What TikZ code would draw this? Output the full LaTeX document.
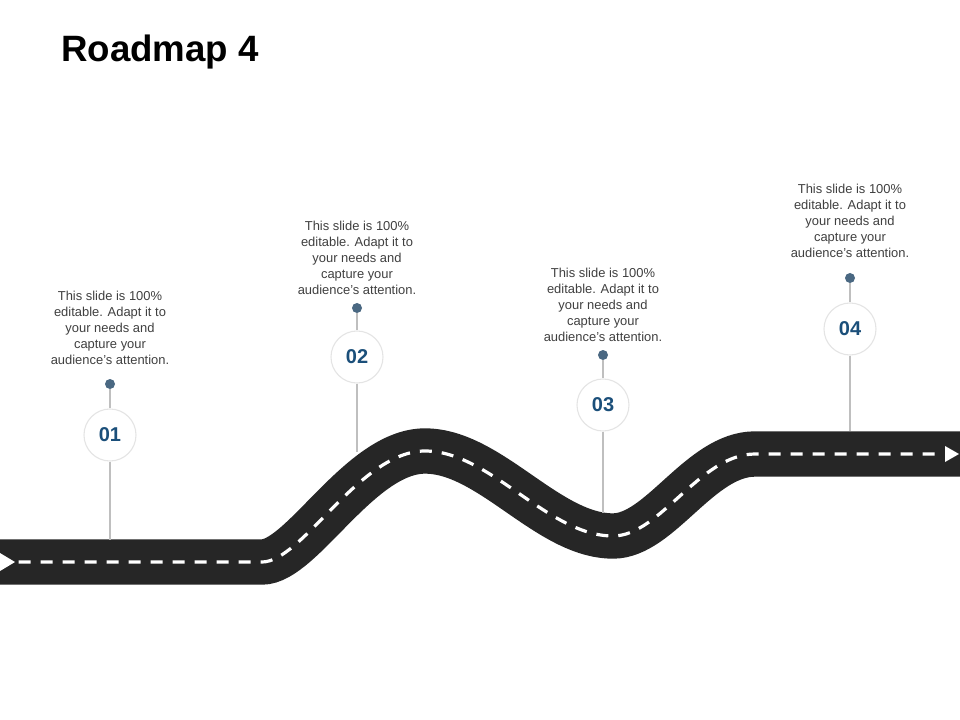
\documentclass[tikz,border=0pt]{standalone}
\usepackage{fontspec}
\setmainfont{Liberation Sans}
\usetikzlibrary{calc}
\definecolor{road}{HTML}{262626}
\definecolor{pin}{HTML}{4A6882}
\definecolor{stepblue}{HTML}{1B4F7A}
\definecolor{note}{HTML}{404040}
\definecolor{rim}{HTML}{E4E4E4}
\definecolor{stem}{HTML}{BFBFBF}
% centre line of the road, in pixels of the slide
\newcommand{\roadline}{(0,562) -- (262,562)
  .. controls (302,562) and (360,451) .. (425,451)
  .. controls (490,451) and (548,536) .. (613,536)
  .. controls (660,536) and (700,454) .. (755,454) -- (960,454)}

\begin{document}
\begin{tikzpicture}[x=0.75pt,y=-0.75pt,
    stepnum/.style={circle,draw=rim,line width=0.8pt,fill=white,minimum size=39pt,
      inner sep=0pt,text=stepblue,font=\fontsize{15}{18}\selectfont\bfseries},
    pindot/.style={circle,fill=pin,minimum size=7.5pt,inner sep=0pt},
    stemline/.style={draw=stem,line width=1.3pt},
    notetext/.style={align=center,text=note,inner sep=0pt,
      font=\fontsize{9.7}{12}\selectfont}]
  \fill[white] (0,0) rectangle (960,720);
  \useasboundingbox (0,0) rectangle (960,720);

  \node[anchor=base west,inner sep=0pt,font=\fontsize{27.5}{33}\selectfont\bfseries]
    (title) at (61,62) {Roadmap 4};

  % the road
  \draw[road,line width=34pt] \roadline;
  \draw[white,line width=2.4pt,dash pattern=on 9pt off 7.5pt,
    shorten <=14pt,shorten >=12pt] \roadline;
  \fill[white] (0,553) -- (15,562) -- (0,571) -- cycle;
  \fill[white] (945,446) -- (959,454) -- (945,462) -- cycle;

  % where the stems meet the road
  \coordinate (r1) at (110,540);
  \coordinate (r2) at (357,452);
  \coordinate (r3) at (603,513);
  \coordinate (r4) at (850,431);

  \node[pindot] (d1) at (110,384) {};
  \node[pindot] (d2) at (357,308) {};
  \node[pindot] (d3) at (603,355) {};
  \node[pindot] (d4) at (850,278) {};

  \node[stepnum] (c1) at (110,435) {01};
  \node[stepnum] (c2) at (357,357) {02};
  \node[stepnum] (c3) at (603,405) {03};
  \node[stepnum] (c4) at (850,329) {04};

  \foreach \i in {1,...,4}{
    \draw[stemline] (d\i) -- (c\i);
    \draw[stemline] (c\i) -- (r\i);
  }

  \node[notetext] (t1) at (110,328) {This slide is 100\%\\editable. Adapt it to\\your needs and\\capture your\\audience's attention.};
  \node[notetext] (t2) at (357,258) {This slide is 100\%\\editable. Adapt it to\\your needs and\\capture your\\audience's attention.};
  \node[notetext] (t3) at (603,305) {This slide is 100\%\\editable. Adapt it to\\your needs and\\capture your\\audience's attention.};
  \node[notetext] (t4) at (850,221) {This slide is 100\%\\editable. Adapt it to\\your needs and\\capture your\\audience's attention.};
\end{tikzpicture}
\end{document}
